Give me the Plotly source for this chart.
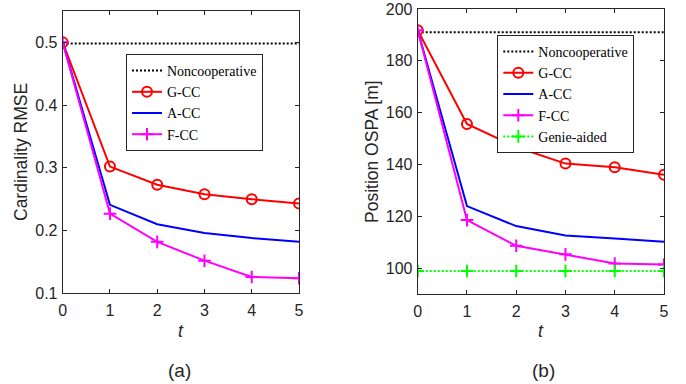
import plotly.graph_objects as go

W, H = 686, 384

t = [0, 1, 2, 3, 4, 5]

# (a) Cardinality RMSE
card_noncoop = [0.498, 0.498, 0.498, 0.498, 0.498, 0.498]
card_gcc = [0.500, 0.302, 0.273, 0.258, 0.250, 0.243]
card_acc = [0.500, 0.241, 0.210, 0.196, 0.188, 0.182]
card_fcc = [0.500, 0.227, 0.182, 0.152, 0.126, 0.124]

# (b) Position OSPA [m]
ospa_noncoop = [191.0, 191.0, 191.0, 191.0, 191.0, 191.0]
ospa_gcc = [191.8, 155.7, 146.8, 140.4, 139.0, 136.1]
ospa_acc = [191.8, 124.0, 116.3, 112.7, 111.5, 110.3]
ospa_fcc = [191.8, 118.6, 108.7, 105.4, 101.9, 101.5]
ospa_genie = [99.0, 99.0, 99.0, 99.0, 99.0, 99.0]

x_ticks = [0, 1, 2, 3, 4, 5]
card_ticks = [0.1, 0.2, 0.3, 0.4, 0.5]
ospa_ticks = [100, 120, 140, 160, 180, 200]

SANS = "Liberation Sans, Arial, sans-serif"
SERIF = "Liberation Serif, Times New Roman, serif"
AX = "#262626"

fig = go.Figure()

def add(x, y, name, color, xa, ya, leg, dash="solid", symbol=None, msize=9):
    kw = dict(x=x, y=y, name=name, xaxis=xa, yaxis=ya, legend=leg,
              line=dict(color=color, width=2, dash=dash))
    if symbol:
        kw["mode"] = "lines+markers"
        kw["marker"] = dict(symbol=symbol, size=msize, color=color,
                            line=dict(color=color, width=2))
    else:
        kw["mode"] = "lines"
    fig.add_trace(go.Scatter(**kw))

# left panel
add(t, card_noncoop, "Noncooperative", "black", "x", "y", "legend", dash="2px,2px")
add(t, card_gcc, "G-CC", "#FF0000", "x", "y", "legend", symbol="circle-open", msize=10)
add(t, card_acc, "A-CC", "#0000FF", "x", "y", "legend")
add(t, card_fcc, "F-CC", "#FF00FF", "x", "y", "legend", symbol="cross-thin", msize=9)

# right panel
add(t, ospa_noncoop, "Noncooperative", "black", "x2", "y2", "legend2", dash="2px,2px")
add(t, ospa_gcc, "G-CC", "#FF0000", "x2", "y2", "legend2", symbol="circle-open", msize=10)
add(t, ospa_acc, "A-CC", "#0000FF", "x2", "y2", "legend2")
add(t, ospa_fcc, "F-CC", "#FF00FF", "x2", "y2", "legend2", symbol="cross-thin", msize=9)
add(t, ospa_genie, "Genie-aided", "#00FF00", "x2", "y2", "legend2", dash="2px,2px",
    symbol="cross-thin", msize=9)

axis_common = dict(showline=True, linecolor=AX, linewidth=1, mirror="ticks",
                   ticks="inside", ticklen=4, tickcolor=AX, showgrid=False,
                   zeroline=False, automargin=False,
                   tickfont=dict(family=SANS, size=16, color=AX))

def px_x(p):
    return p / W

def px_y(p):
    return 1 - p / H

legend_common = dict(xanchor="left", yanchor="top", bgcolor="white",
                     bordercolor=AX, borderwidth=1,
                     font=dict(family=SERIF, size=14, color="black"),
                     tracegroupgap=0, itemwidth=30)

fig.update_layout(
    width=W, height=H,
    margin=dict(l=0, r=0, t=0, b=0),
    paper_bgcolor="white", plot_bgcolor="white",
    showlegend=True,
    xaxis=dict(domain=[px_x(62.7), px_x(299)], range=[0, 5], tickvals=x_ticks,
               anchor="y", ticklabelstandoff=2, **axis_common),
    yaxis=dict(domain=[px_y(293.3), px_y(11)], range=[0.1, 0.55], tickvals=card_ticks,
               anchor="x", ticklabelstandoff=1, **axis_common),
    xaxis2=dict(domain=[px_x(417.7), px_x(664)], range=[0, 5], tickvals=x_ticks,
                anchor="y2", ticklabelstandoff=2, **axis_common),
    yaxis2=dict(domain=[px_y(294.3), px_y(9)], range=[90, 200], tickvals=ospa_ticks,
                anchor="x2", ticklabelstandoff=1, **axis_common),
    legend=dict(x=px_x(126), y=px_y(54), **legend_common),
    legend2=dict(x=px_x(497.3), y=px_y(35), **legend_common),
)

def text(xp, yp, s, size, angle=0, italic=False):
    fig.add_annotation(x=px_x(xp), y=px_y(yp), xref="paper", yref="paper",
                       text=s, showarrow=False, textangle=angle,
                       xanchor="center", yanchor="middle",
                       font=dict(family=SANS, size=size, color=AX,
                                 style="italic" if italic else "normal"))

text(21, 152, "Cardinality RMSE", 17.5, angle=-90)
text(372, 152, "Position OSPA [m]", 17.5, angle=-90)
text(181, 331, "t", 17.5, italic=True)
text(541, 331, "t", 17.5, italic=True)
text(180, 370, "(a)", 19)
text(543, 370, "(b)", 19)

fig.write_html("out.html", config={"displayModeBar": False},
               post_script="document.body.style.margin='0';document.body.style.overflow='hidden';")
